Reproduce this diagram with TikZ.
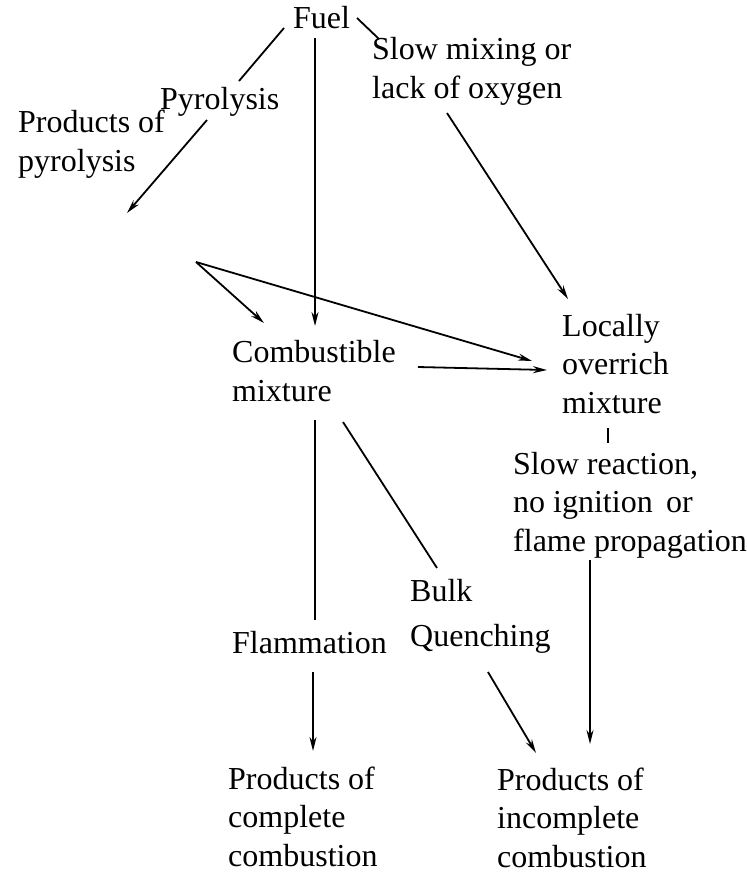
\documentclass[tikz,border=0pt]{standalone}
\usepackage{fontspec}
\setmainfont{Liberation Serif}
\usetikzlibrary{arrows.meta}
\begin{document}
\begin{tikzpicture}[x=1pt,y=-1pt,
  lbl/.style={anchor=base west,inner sep=0pt,align=left,font=\fontsize{32}{38.5}\selectfont},
  conn/.style={line width=1.8pt},
  arr/.style={conn,-{Stealth[length=14pt,width=7pt]}}]
\useasboundingbox (0,0) rectangle (747,873);
% labels (anchor = baseline of last line)
\node[lbl] (fuel) at (293,28) {Fuel};
\node[lbl] (pyro) at (160,109) {Pyrolysis};
\node[lbl] (slowmix) at (372,98) {Slow\ mixing\ or\\lack\ of\ oxygen};
\node[lbl] (prodpyro) at (18,171) {Products of\\pyrolysis};
\node[lbl] (comb) at (232,401) {Combustible\\mixture};
\node[lbl] (over) at (562,413) {Locally\\overrich\\mixture};
\node[lbl] (slowreact) at (513,551) {Slow reaction,\\no ignition\, or\\flame propagation};
\node[lbl] (bulk) at (410,646) {Bulk\\[6pt]Quenching};
\node[lbl] (flam) at (232,653) {Flammation};
\node[lbl] (complete) at (228,866) {Products of\\complete\\combustion};
\node[lbl] (incomplete) at (497,867) {Products of\\incomplete\\combustion};
% connector end points
\coordinate (f1) at (284,28);  \coordinate (p1) at (239,81);
\coordinate (f2) at (357,18);  \coordinate (s1) at (379,39);
\coordinate (f3) at (315,38);  \coordinate (c1) at (315,326);
\coordinate (p2) at (207,120); \coordinate (pp1) at (127,213);
\coordinate (v) at (196,262);  \coordinate (c2) at (264,323);
\coordinate (o1) at (532,361);
\coordinate (s2) at (447,113); \coordinate (o2) at (568,299);
\coordinate (c3) at (418,367); \coordinate (o3) at (547,370);
\coordinate (t1) at (608,428); \coordinate (t2) at (608,443);
\coordinate (c4) at (315,420); \coordinate (fl1) at (315,620);
\coordinate (c5) at (343,422); \coordinate (b1) at (437,568);
\coordinate (fl2) at (313,672); \coordinate (pc) at (313,751);
\coordinate (q1) at (488,672); \coordinate (pi1) at (536,753);
\coordinate (sr1) at (590,560); \coordinate (pi2) at (590,744);
% connectors
\draw[conn] (f1) -- (p1);
\draw[conn] (f2) -- (s1);
\draw[arr] (f3) -- (c1);
\draw[arr] (p2) -- (pp1);
\draw[arr] (v) -- (c2);
\draw[arr] (v) -- (o1);
\draw[arr] (s2) -- (o2);
\draw[arr] (c3) -- (o3);
\draw[conn] (t1) -- (t2);
\draw[conn] (c4) -- (fl1);
\draw[conn] (c5) -- (b1);
\draw[arr] (fl2) -- (pc);
\draw[arr] (q1) -- (pi1);
\draw[arr] (sr1) -- (pi2);
\end{tikzpicture}
\end{document}
